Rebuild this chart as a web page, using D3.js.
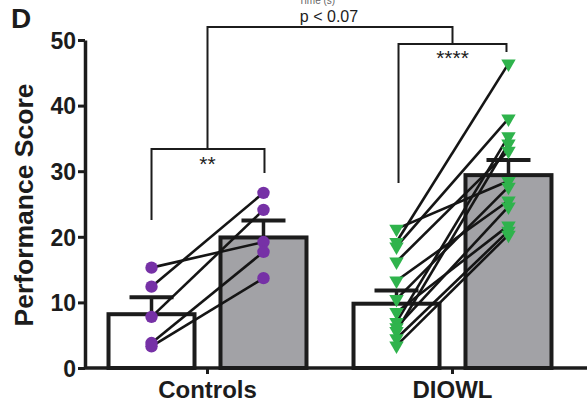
<!DOCTYPE html>
<html>
<head>
<meta charset="utf-8">
<script src="https://cdn.jsdelivr.net/npm/d3@7"></script>
<style>
  body { margin: 0; background: #fff; }
  svg { font-family: "Liberation Sans", Arial, sans-serif; }
</style>
</head>
<body>
<div id="chart"></div>
<script>
// groups and conditions
const groups = ["Controls", "DIOWL"];
const conditions = ["pre", "post"];

// bar means and error (upper SEM)
const controlsMeans = [8.2, 19.9];
const controlsErr = [2.6, 2.6];
const diowlMeans = [9.8, 29.4];
const diowlErr = [2.0, 2.3];

// paired individual scores
const controlsPre = [15.3, 12.4, 7.8, 3.8, 3.3];
const controlsPost = [19.2, 26.7, 24.1, 17.7, 13.7];
const diowlPre = [21.2, 19.2, 18.5, 16.2, 13.3, 10.5, 8.5, 7.0, 6.2, 5.6, 4.5, 3.4];
const diowlPost = [28.5, 46.4, 38.0, 33.1, 25.5, 27.6, 21.7, 35.3, 24.6, 34.2, 20.9, 20.3];

const yTicks = [0, 10, 20, 30, 40, 50];

const width = 587, height = 414;
const ink = "#1c1c1c";
const svg = d3.select("#chart").append("svg")
  .attr("width", width).attr("height", height);

const x = d3.scaleBand().domain(groups).range([85, 575]).padding(0);
const xi = d3.scalePoint().domain(conditions).range([0, x.bandwidth()]).padding(0.594);
const y = d3.scaleLinear().domain([0, 50]).range([368, 40]);
const barW = 86;

const barData = [
  { g: "Controls", c: "pre", v: controlsMeans[0], e: controlsErr[0] },
  { g: "Controls", c: "post", v: controlsMeans[1], e: controlsErr[1] },
  { g: "DIOWL", c: "pre", v: diowlMeans[0], e: diowlErr[0] },
  { g: "DIOWL", c: "post", v: diowlMeans[1], e: diowlErr[1] }
];
const cx = d => x(d.g) + xi(d.c);

// error bars (upward only)
svg.append("g").selectAll("line").data(barData).enter().append("line")
  .attr("x1", cx).attr("x2", cx)
  .attr("y1", d => y(d.v)).attr("y2", d => y(d.v + d.e))
  .attr("stroke", ink).attr("stroke-width", 3.5);
svg.append("g").selectAll("line").data(barData).enter().append("line")
  .attr("x1", d => cx(d) - 22).attr("x2", d => cx(d) + 22)
  .attr("y1", d => y(d.v + d.e)).attr("y2", d => y(d.v + d.e))
  .attr("stroke", ink).attr("stroke-width", 4);

// bars
svg.append("g").selectAll("rect").data(barData).enter().append("rect")
  .attr("x", d => cx(d) - barW / 2)
  .attr("y", d => y(d.v))
  .attr("width", barW)
  .attr("height", d => y(0) - y(d.v))
  .attr("fill", d => d.c === "pre" ? "#ffffff" : "#a2a2a6")
  .attr("stroke", ink).attr("stroke-width", 4);

// paired lines + points
function drawPairs(g, pre, post, color, shape) {
  const x0 = x(g) + xi("pre"), x1 = x(g) + xi("post");
  const pairs = pre.map((p, i) => [p, post[i]]);
  svg.append("g").selectAll("line").data(pairs).enter().append("line")
    .attr("x1", x0).attr("x2", x1)
    .attr("y1", d => y(d[0])).attr("y2", d => y(d[1]))
    .attr("stroke", "#151515").attr("stroke-width", 2.6);
  const pts = pre.map(v => [x0, v]).concat(post.map(v => [x1, v]));
  if (shape === "circle") {
    svg.append("g").selectAll("circle").data(pts).enter().append("circle")
      .attr("cx", d => d[0]).attr("cy", d => y(d[1])).attr("r", 6.2)
      .attr("fill", color);
  } else {
    const tri = d3.symbol().type(d3.symbolTriangle).size(90);
    svg.append("g").selectAll("path").data(pts).enter().append("path")
      .attr("d", tri)
      .attr("transform", d => "translate(" + d[0] + "," + y(d[1]) + ") rotate(180)")
      .attr("fill", color);
  }
}
drawPairs("Controls", controlsPre, controlsPost, "#7631a6", "circle");
drawPairs("DIOWL", diowlPre, diowlPost, "#2fb34c", "triangle");

// y axis
const yAxis = svg.append("g").attr("transform", "translate(85,0)")
  .call(d3.axisLeft(y).tickValues(yTicks).tickSize(7).tickSizeOuter(0));
yAxis.select(".domain").attr("stroke", ink).attr("stroke-width", 3.5);
yAxis.selectAll(".tick line").attr("stroke", ink).attr("stroke-width", 3);
yAxis.selectAll(".tick text")
  .attr("x", -9).attr("dy", "0.36em")
  .attr("font-size", 23).attr("font-weight", "bold").attr("fill", ink)
  .attr("font-family", "Liberation Sans, Arial, sans-serif");

// x axis
const xAxis = svg.append("g").attr("transform", "translate(0,368)")
  .call(d3.axisBottom(x).tickSize(6).tickSizeOuter(0));
xAxis.select(".domain").attr("d", "M85,0H587").attr("stroke", ink).attr("stroke-width", 3.5);
xAxis.selectAll(".tick line").attr("stroke", ink).attr("stroke-width", 3);
xAxis.selectAll(".tick text")
  .attr("y", 30).attr("dy", null)
  .attr("font-size", 24).attr("font-weight", "bold").attr("fill", ink)
  .attr("font-family", "Liberation Sans, Arial, sans-serif");

// axis title
svg.append("text")
  .attr("transform", "translate(33,205) rotate(-90)")
  .attr("text-anchor", "middle")
  .attr("font-size", 26.5).attr("font-weight", "bold").attr("fill", ink)
  .text("Performance Score");

// panel letter
svg.append("text").attr("x", 11).attr("y", 28)
  .attr("font-size", 28).attr("font-weight", "bold").attr("fill", ink)
  .text("D");

// cut-off caption at top
svg.append("text").attr("x", 317).attr("y", 4)
  .attr("text-anchor", "middle").attr("font-size", 10).attr("fill", "#666")
  .text("Time (s)");

// significance brackets
const bk = svg.append("g").attr("fill", "none").attr("stroke", ink).attr("stroke-width", 2);
const cC = x("Controls") + x.bandwidth() / 2;
const cD = x("DIOWL") + x.bandwidth() / 2;
const cPre = x("Controls") + xi("pre"), cPost = x("Controls") + xi("post");
const dPre = x("DIOWL") + xi("pre"), dPost = x("DIOWL") + xi("post");
bk.append("path").attr("d", `M${cPre},220V149H${cPost + 1}V173`);
bk.append("path").attr("d", `M${cC},149V27H${cD}V44`);
bk.append("path").attr("d", `M${dPre + 2},183V44H${dPost - 2}V52`);

svg.append("text").attr("x", cC).attr("y", 171).attr("text-anchor", "middle")
  .attr("font-size", 21).attr("fill", ink).text("**");
svg.append("text").attr("x", cD).attr("y", 65).attr("text-anchor", "middle")
  .attr("font-size", 21).attr("fill", ink).text("****");
svg.append("text").attr("x", 329).attr("y", 22).attr("text-anchor", "middle")
  .attr("font-size", 16).attr("fill", ink).text("p < 0.07");
</script>
</body>
</html>
